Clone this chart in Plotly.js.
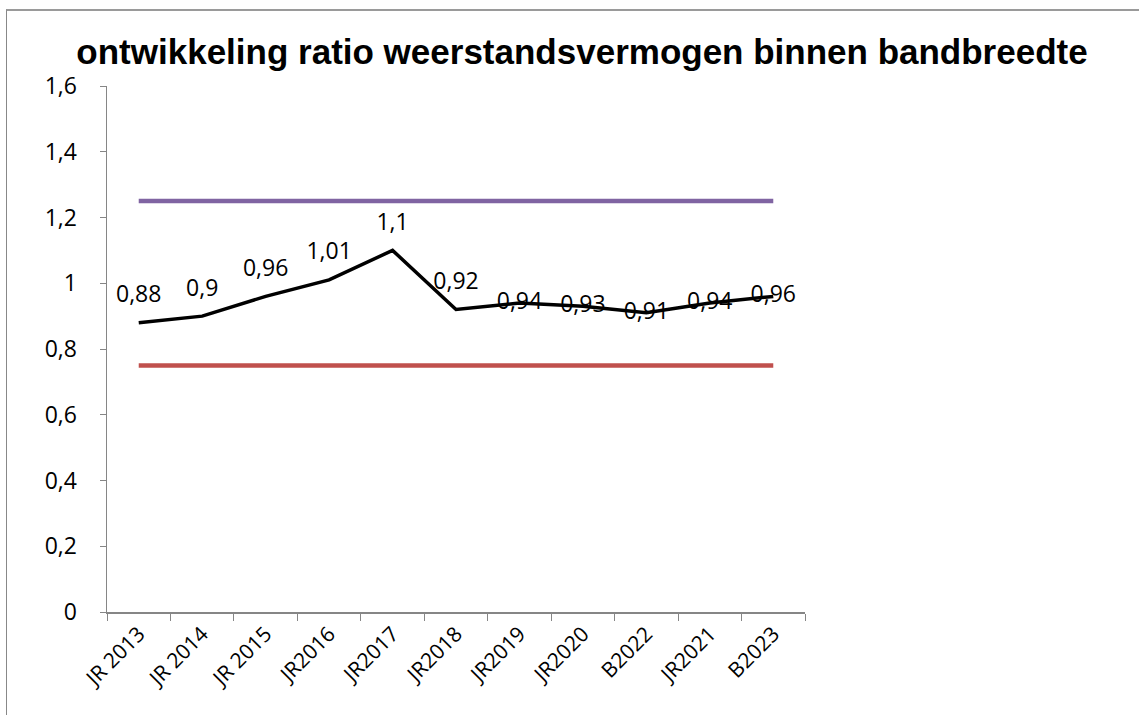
<!DOCTYPE html>
<html>
<head>
<meta charset="utf-8">
<script src="https://cdn.plot.ly/plotly-3.0.1.min.js"></script>
<style>
html,body{margin:0;padding:0;background:#fff;overflow:hidden;}
#frame{position:absolute;left:6px;top:9px;width:1133px;height:706px;border-top:2px solid #9a9a9a;border-left:1px solid #888;}
#chart{position:absolute;left:0;top:0;width:1139px;height:715px;}
</style>
</head>
<body>
<div id="frame"></div>
<div id="chart"></div>
<script>
var categories = ["JR 2013","JR 2014","JR 2015","JR2016","JR2017","JR2018","JR2019","JR2020","B2022","JR2021","B2023"];
var ratioValues = [0.88,0.9,0.96,1.01,1.1,0.92,0.94,0.93,0.91,0.94,0.96];
var ratioLabels = ["0,88","0,9","0,96","1,01","1,1","0,92","0,94","0,93","0,91","0,94","0,96"];
var upperBound = [1.25,1.25,1.25,1.25,1.25,1.25,1.25,1.25,1.25,1.25,1.25];
var lowerBound = [0.75,0.75,0.75,0.75,0.75,0.75,0.75,0.75,0.75,0.75,0.75];
var yTickVals = [0,0.2,0.4,0.6,0.8,1,1.2,1.4,1.6];
var yTickText = ["0","0,2","0,4","0,6","0,8","1","1,2","1,4","1,6"];

var labelPos = ["top center","top center","top center","top center","top center","top center","middle center","middle center","middle center","middle center","middle center"];

var traces = [
  {x: categories, y: upperBound, type: "scatter", mode: "lines", line: {color: "#8064A2", width: 4.5}, hoverinfo: "skip"},
  {x: categories, y: lowerBound, type: "scatter", mode: "lines", line: {color: "#C0504D", width: 4.5}, hoverinfo: "skip"},
  {x: categories, y: ratioValues, type: "scatter", mode: "lines+markers+text", line: {color: "#000000", width: 3.5},
   marker: {size: 22, color: "rgba(0,0,0,0)"},
   text: ratioLabels, textposition: labelPos, textfont: {family: "Open Sans, sans-serif", size: 23, color: "#000"}, cliponaxis: false}
];

var layout = {
  width: 1139, height: 715,
  margin: {l: 107, r: 334, t: 86, b: 103},
  paper_bgcolor: "rgba(0,0,0,0)", plot_bgcolor: "rgba(0,0,0,0)",
  showlegend: false,
  title: {text: "ontwikkeling ratio weerstandsvermogen binnen bandbreedte",
          font: {family: "Liberation Sans, Arial, sans-serif", size: 35, color: "#000", weight: "bold"},
          x: 0.511, xref: "container", xanchor: "center", y: 0.927, yref: "container", yanchor: "middle"},
  xaxis: {type: "category", range: [-0.5, 10.5], tickson: "boundaries", ticks: "outside", ticklen: 7, tickcolor: "#868686",
          showline: true, linecolor: "#868686", linewidth: 1.5, showgrid: false, zeroline: false,
          tickangle: -45, tickfont: {family: "Open Sans, sans-serif", size: 21, color: "#000"}},
  yaxis: {range: [0, 1.6], tickvals: yTickVals, ticktext: yTickText, ticks: "outside", ticklen: 6, tickcolor: "#868686",
          showline: true, linecolor: "#868686", linewidth: 1.5, showgrid: false, zeroline: false,
          ticklabelstandoff: 18, tickfont: {family: "Open Sans, sans-serif", size: 23, color: "#000"}}
};

Plotly.newPlot("chart", traces, layout, {displayModeBar: false, staticPlot: true});
</script>
</body>
</html>
